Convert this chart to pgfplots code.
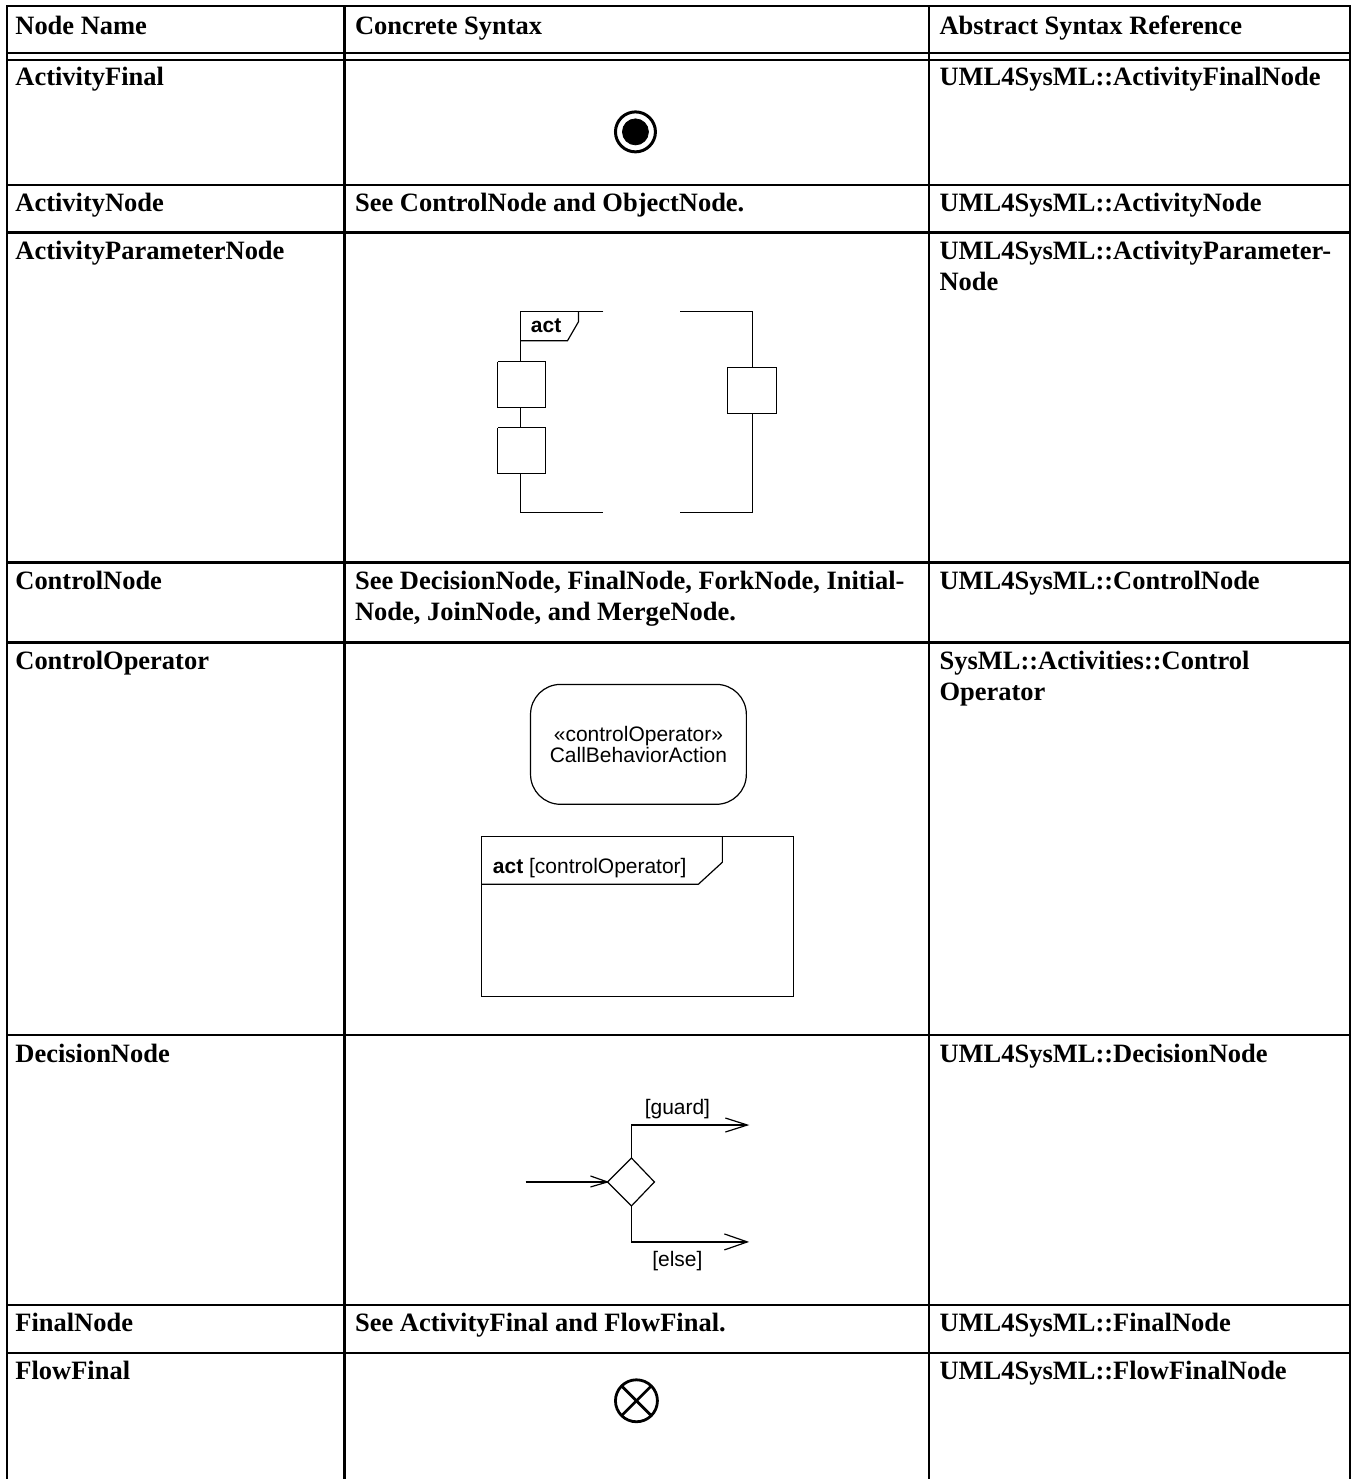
\documentclass[border=0pt]{standalone}
\usepackage{pgfplots}
\pgfplotsset{compat=1.18}
\usepackage{fontspec}
\setmainfont{Liberation Serif}
\setsansfont{Liberation Sans}
\tikzset{dgt/.style={font=\sffamily\fontsize{10.5}{12}\selectfont, inner sep=0pt}}
\newcommand{\tb}[3]{\node[anchor=base west, inner sep=0pt, font=\fontsize{13.25}{15}\selectfont\bfseries] at (axis cs:#1,#2) {#3};}
\begin{document}
\begin{tikzpicture}
\begin{axis}[
  width=678pt, height=740pt, scale only axis,
  xmin=0, xmax=1356, ymin=0, ymax=1480, y dir=reverse,
  hide axis, clip=false,
  tbl/.style={black, line width=1.3pt, forget plot, mark=none},
  dg/.style={black, line width=0.6pt, forget plot, mark=none},
]
\addplot[draw=none, forget plot] coordinates {(0,0)(1356,1480)};
% ---------- table grid ----------
\addplot[tbl] coordinates {(7,1480)(7,6)(1351,6)(1351,1480)};
\addplot[tbl] coordinates {(345,6)(345,1480)};
\addplot[tbl] coordinates {(930,6)(930,1480)};
\addplot[tbl] coordinates {(7,53)(1351,53)};
\addplot[tbl] coordinates {(7,60)(1351,60)};
\addplot[tbl] coordinates {(7,185)(1351,185)};
\addplot[tbl] coordinates {(7,233)(1351,233)};
\addplot[tbl] coordinates {(7,563)(1351,563)};
\addplot[tbl] coordinates {(7,643)(1351,643)};
\addplot[tbl] coordinates {(7,1036)(1351,1036)};
\addplot[tbl] coordinates {(7,1306)(1351,1306)};
\addplot[tbl] coordinates {(7,1354)(1351,1354)};
% ---------- table text ----------
\tb{15}{35}{Node Name}
\tb{355}{35}{Concrete Syntax}
\tb{940}{35}{Abstract Syntax Reference}
\tb{15}{86}{ActivityFinal}
\tb{940}{86}{UML4SysML::ActivityFinalNode}
\tb{15}{212}{ActivityNode}
\tb{355}{212}{See ControlNode and ObjectNode.}
\tb{940}{212}{UML4SysML::ActivityNode}
\tb{15}{260}{ActivityParameterNode}
\tb{940}{260}{UML4SysML::ActivityParameter-}
\tb{940}{291}{Node}
\tb{15}{590}{ControlNode}
\tb{355}{590}{See DecisionNode, FinalNode, ForkNode, Initial-}
\tb{355}{621}{Node, JoinNode, and MergeNode.}
\tb{940}{590}{UML4SysML::ControlNode}
\tb{15}{670}{ControlOperator}
\tb{940}{670}{SysML::Activities::Control}
\tb{940}{701}{Operator}
\tb{15}{1063}{DecisionNode}
\tb{940}{1063}{UML4SysML::DecisionNode}
\tb{15}{1333}{FinalNode}
\tb{355}{1333}{See ActivityFinal and FlowFinal.}
\tb{940}{1333}{UML4SysML::FinalNode}
\tb{15}{1381}{FlowFinal}
\tb{940}{1381}{UML4SysML::FlowFinalNode}
% ---------- ActivityFinal ----------
\addplot[only marks, mark=*, mark size=6.5pt, black, forget plot] coordinates {(636,132)};
\addplot[only marks, mark=o, mark size=10pt, mark options={line width=1.5pt}, black, forget plot] coordinates {(636,132)};
% ---------- ActivityParameterNode ----------
\addplot[dg] coordinates {(604,312)(521,312)(521,513)(604,513)};
\addplot[dg] coordinates {(579,312)(579,322)(568,341)(521,341)};
\node[dgt, anchor=base west, font=\sffamily\bfseries\fontsize{10.5}{12}\selectfont] at (axis cs:531,333) {act};
\addplot[dg, fill=white] coordinates {(498,362)(546,362)(546,408)(498,408)(498,362)};
\addplot[dg, fill=white] coordinates {(498,428)(546,428)(546,474)(498,474)(498,428)};
\addplot[dg] coordinates {(681,312)(753,312)(753,513)(681,513)};
\addplot[dg, fill=white] coordinates {(728,368)(777,368)(777,414)(728,414)(728,368)};
% ---------- ControlOperator ----------
\addplot[dg, rounded corners=15pt] coordinates {(531,685)(747,685)(747,805)(531,805)} -- cycle;
\node[dgt, anchor=base] at (axis cs:639,742) {«controlOperator»};
\node[dgt, anchor=base] at (axis cs:639,763) {CallBehaviorAction};
\addplot[dg] coordinates {(482,837)(794,837)(794,997)(482,997)(482,837)};
\addplot[dg] coordinates {(723,837)(723,863)(699,885)(482,885)};
\node[dgt, anchor=base west] at (axis cs:493,874) {\textbf{act} [controlOperator]};
% ---------- DecisionNode ----------
\addplot[dg] coordinates {(608,1183)(632,1159)(655,1183)(632,1207)(608,1183)};
\addplot[dg] coordinates {(526,1183)(608,1183)};
\addplot[dg] coordinates {(591,1177)(608,1183)(591,1188)};
\addplot[dg] coordinates {(632,1159)(632,1126)(748,1126)};
\addplot[dg] coordinates {(726,1119)(748,1126)(726,1133)};
\addplot[dg] coordinates {(632,1207)(632,1243)(748,1243)};
\addplot[dg] coordinates {(725,1235)(748,1243)(725,1251)};
\node[dgt, anchor=base] at (axis cs:678,1115) {[guard]};
\node[dgt, anchor=base] at (axis cs:678,1268) {[else]};
% ---------- FlowFinal ----------
\addplot[only marks, mark=o, mark size=10.5pt, mark options={line width=1.4pt}, black, forget plot] coordinates {(637,1402)};
\addplot[black, line width=1.4pt, forget plot] coordinates {(622.2,1387.2)(651.8,1416.8)};
\addplot[black, line width=1.4pt, forget plot] coordinates {(622.2,1416.8)(651.8,1387.2)};
\end{axis}
\end{tikzpicture}
\end{document}
